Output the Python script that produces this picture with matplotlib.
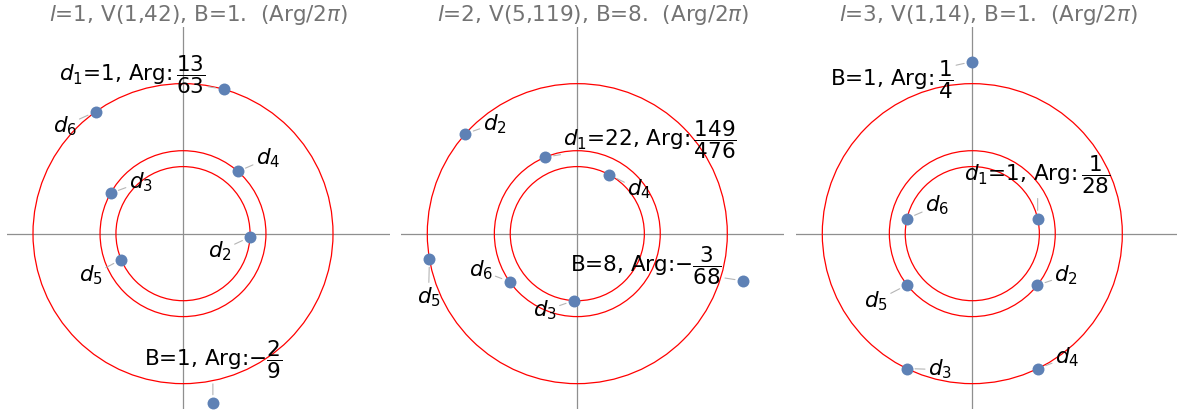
import numpy as np
import matplotlib.pyplot as plt
from matplotlib.patches import Circle

plt.rcParams['font.family'] = ['DejaVu Sans']
plt.rcParams['mathtext.fontset'] = 'dejavusans'

# --- data -------------------------------------------------------------
titles = [r"$l$=1, V(1,42), B=1.  (Arg/2$\pi$)",
          r"$l$=2, V(5,119), B=8.  (Arg/2$\pi$)",
          r"$l$=3, V(1,14), B=1.  (Arg/2$\pi$)"]

circle_radii = [1.0, 0.553, 0.447]

# order of points: d1, d2, d3, d4, d5, d6, B
# modulus (outer circle = 1) and argument in turns (Arg/2pi)
mod_1 = [1.0, 0.447, 0.553, 0.553, 0.447, 1.0, 1.147]
turn_1 = [13 / 63, -0.008, 0.419, 0.135, -0.437, 0.349, -2 / 9]

mod_2 = [0.553, 1.0, 0.447, 0.447, 1.0, 0.553, 1.15]
turn_2 = [149 / 476, 0.384, -0.258, 0.171, -0.473, -0.402, -3 / 68]

mod_3 = [0.447, 0.553, 1.0, 1.0, 0.553, 0.447, 1.147]
turn_3 = [1 / 28, -0.107, -0.322, -0.178, -0.394, 0.464, 1 / 4]

d1_value = [1, 22, 1]
d1_frac = [(13, 63), (149, 476), (1, 28)]
b_value = [1, 8, 1]
b_frac = [(-2, 9), (-3, 68), (1, 4)]

mods = [mod_1, mod_2, mod_3]
turns = [turn_1, turn_2, turn_3]

# --- label layout (offset in pixels from the point, ha, va) ------------
layout = [
    [(-18, 15, 'right', 'center'), (-30, -14, 'center', 'center'),
     (30, 11, 'center', 'center'), (30, 13, 'center', 'center'),
     (-30, -16, 'center', 'center'), (-31, -14, 'center', 'center'),
     (0, 22, 'center', 'bottom')],
    [(18, 17, 'left', 'center'), (29, 10, 'center', 'center'),
     (-29, -10, 'center', 'center'), (30, -15, 'center', 'center'),
     (-1, -38, 'center', 'center'), (-29, 11, 'center', 'center'),
     (-21, 15, 'right', 'center')],
    [(0, 23, 'center', 'bottom'), (29, 10, 'center', 'center'),
     (33, -1, 'center', 'center'), (29, 11, 'center', 'center'),
     (-31, -16, 'center', 'center'), (30, 13, 'center', 'center'),
     (-19, -18, 'right', 'center')],
]


def frac_tex(num, den):
    if num < 0:
        return r"$-\dfrac{%d}{%d}$" % (abs(num), den)
    return r"$\,\dfrac{%d}{%d}$" % (num, den)


W, H = 1177, 412
fig = plt.figure(figsize=(W / 100, H / 100), dpi=100)

scale = 150.0  # pixels per unit
xlim = (-1.173, 1.38)
ylim = (-1.169, 1.378)
centers_px = [183, 577.3, 972.3]

for i in range(3):
    left_px = centers_px[i] + xlim[0] * scale
    ax = fig.add_axes([left_px / W, 3 / H,
                       (xlim[1] - xlim[0]) * scale / W,
                       (ylim[1] - ylim[0]) * scale / H])
    ax.set_xlim(*xlim)
    ax.set_ylim(*ylim)
    ax.axis('off')

    ax.axhline(0, color='#8f8f8f', lw=0.9, zorder=1)
    ax.axvline(0, color='#8f8f8f', lw=0.9, zorder=1)
    for r in circle_radii:
        ax.add_patch(Circle((0, 0), r, fill=False, ec='#ff0000', lw=0.9, zorder=2))

    m = np.array(mods[i])
    t = np.array(turns[i]) * 2 * np.pi
    xs = m * np.cos(t)
    ys = m * np.sin(t)
    ax.plot(xs, ys, 'o', color='#5e81b5', ms=8.6, mec='none', zorder=5)

    labels = [r"$d_1$=%d, Arg:" % d1_value[i] + frac_tex(*d1_frac[i])]
    labels += [r"$d_%d$" % k for k in range(2, 7)]
    labels += ["B=%d, Arg:" % b_value[i] + frac_tex(*b_frac[i])]

    for j, lab in enumerate(labels):
        dx, dy, ha, va = layout[i][j]
        ax.annotate(lab, (xs[j], ys[j]), xytext=(dx, dy),
                    textcoords='offset pixels', ha=ha, va=va,
                    fontsize=15.5, color='black', zorder=4,
                    arrowprops=dict(arrowstyle='-', color='#b5b5b5', lw=0.8,
                                    shrinkA=0, shrinkB=6))

    ax.set_title(titles[i], fontsize=15.5, color='#737373', pad=4.3)

fig.savefig('out.png', dpi=100)
